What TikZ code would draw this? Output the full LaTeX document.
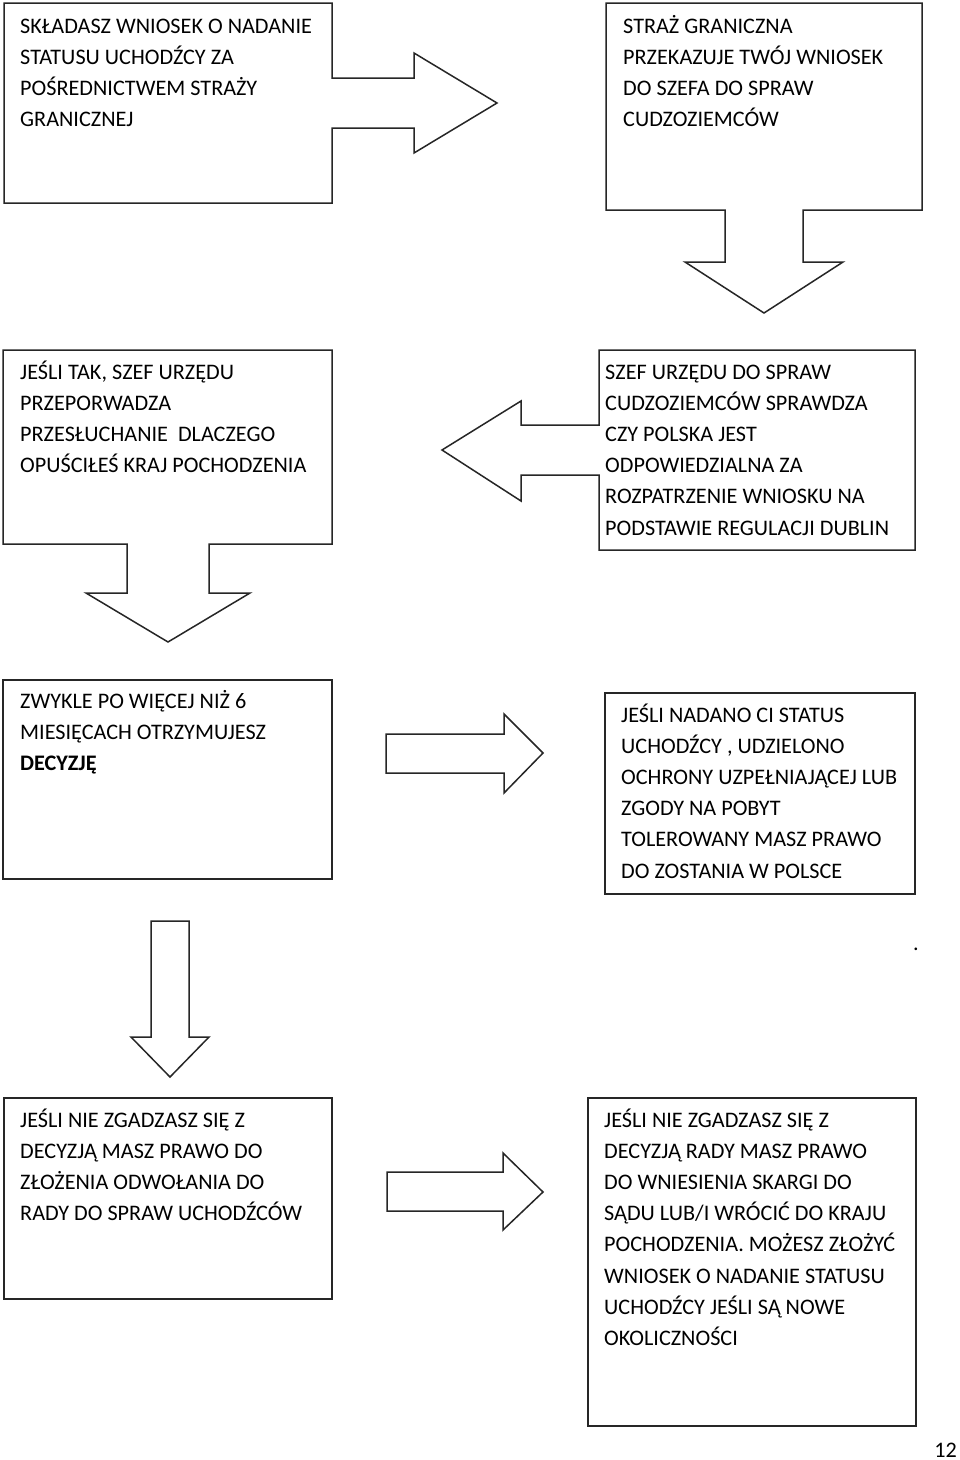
\documentclass[tikz,border=0pt]{standalone}
\usepackage{fontspec}
\setmainfont{Carlito}

\tikzset{
    frame/.style={draw=black!85, line width=1.5pt, line join=miter, fill=white},
    boxtext/.style={anchor=base west, inner sep=0pt, font=\fontsize{22.2}{31.2}\selectfont},
}
\newcommand\lines[1]{\parbox[t]{330pt}{\raggedright #1}}

\begin{document}
\begin{tikzpicture}[x=1pt, y=-1pt]
    \useasboundingbox [fill=white] (0, 0) rectangle (960, 1460);

    % boxes with attached arrows
    \draw [frame] (4, 3) -- (332, 3) -- (332, 78) -- (414, 78) -- (414, 53) -- (497, 103)
        -- (414, 153) -- (414, 128) -- (332, 128) -- (332, 203) -- (4, 203) -- cycle;
    \draw [frame] (606, 3) -- (922, 3) -- (922, 210) -- (803, 210) -- (803, 262) -- (843, 262)
        -- (764, 313) -- (685, 262) -- (725, 262) -- (725, 210) -- (606, 210) -- cycle;
    \draw [frame] (3, 350) -- (332, 350) -- (332, 544) -- (209, 544) -- (209, 593) -- (250, 593)
        -- (168, 642) -- (86, 593) -- (127, 593) -- (127, 544) -- (3, 544) -- cycle;
    \draw [frame] (599, 350) -- (915, 350) -- (915, 550) -- (599, 550) -- (599, 475) -- (521, 475)
        -- (521, 501) -- (442, 450) -- (521, 401) -- (521, 425) -- (599, 425) -- cycle;

    % plain boxes
    \draw [frame] (3, 680) rectangle (332, 879);
    \draw [frame] (605, 693) rectangle (915, 894);
    \draw [frame] (4, 1098) rectangle (332, 1299);
    \draw [frame] (588, 1098) rectangle (916, 1426);

    % loose arrows
    \draw [frame] (386, 734) -- (504, 734) -- (504, 714) -- (543, 753) -- (504, 793) -- (504, 773) -- (386, 773) -- cycle;
    \draw [frame] (151, 921) -- (189, 921) -- (189, 1037) -- (209, 1037) -- (170, 1077) -- (131, 1037) -- (151, 1037) -- cycle;
    \draw [frame] (387, 1172) -- (503, 1172) -- (503, 1153) -- (543, 1192) -- (503, 1230) -- (503, 1211) -- (387, 1211) -- cycle;

    \node (wniosek) at (20, 33) [boxtext] {\lines{SKŁADASZ WNIOSEK O NADANIE\\STATUSU UCHODŹCY ZA\\POŚREDNICTWEM STRAŻY\\GRANICZNEJ}};
    \node (straz) at (623, 33) [boxtext] {\lines{STRAŻ GRANICZNA\\PRZEKAZUJE TWÓJ WNIOSEK\\DO SZEFA DO SPRAW\\CUDZOZIEMCÓW}};
    \node (dublin) at (605, 379) [boxtext] {\lines{SZEF URZĘDU DO SPRAW\\CUDZOZIEMCÓW SPRAWDZA\\CZY POLSKA JEST\\ODPOWIEDZIALNA ZA\\ROZPATRZENIE WNIOSKU NA\\PODSTAWIE REGULACJI DUBLIN}};
    \node (przesluchanie) at (20, 379) [boxtext] {\lines{JEŚLI TAK, SZEF URZĘDU\\PRZEPORWADZA\\PRZESŁUCHANIE~ DLACZEGO\\OPUŚCIŁEŚ KRAJ POCHODZENIA}};
    \node (decyzja) at (20, 708) [boxtext] {\lines{ZWYKLE PO WIĘCEJ NIŻ 6\\MIESIĘCACH OTRZYMUJESZ\\\textbf{DECYZJĘ}}};
    \node (status) at (621, 722) [boxtext] {\lines{JEŚLI NADANO CI STATUS\\UCHODŹCY , UDZIELONO\\OCHRONY UZPEŁNIAJĄCEJ LUB\\ZGODY NA POBYT\\TOLEROWANY MASZ PRAWO\\DO ZOSTANIA W POLSCE}};
    \node (odwolanie) at (20, 1127) [boxtext] {\lines{JEŚLI NIE ZGADZASZ SIĘ Z\\DECYZJĄ MASZ PRAWO DO\\ZŁOŻENIA ODWOŁANIA DO\\RADY DO SPRAW UCHODŹCÓW}};
    \node (skarga) at (604, 1127) [boxtext] {\lines{JEŚLI NIE ZGADZASZ SIĘ Z\\DECYZJĄ RADY MASZ PRAWO\\DO WNIESIENIA SKARGI DO\\SĄDU LUB/I WRÓCIĆ DO KRAJU\\POCHODZENIA. MOŻESZ ZŁOŻYĆ\\WNIOSEK O NADANIE STATUSU\\UCHODŹCY JEŚLI SĄ NOWE\\OKOLICZNOŚCI}};

    \node (kropka) at (916, 950) [boxtext, anchor=base] {.};
    \node (strona) at (957, 1457) [boxtext, anchor=base east] {12};
\end{tikzpicture}
\end{document}
